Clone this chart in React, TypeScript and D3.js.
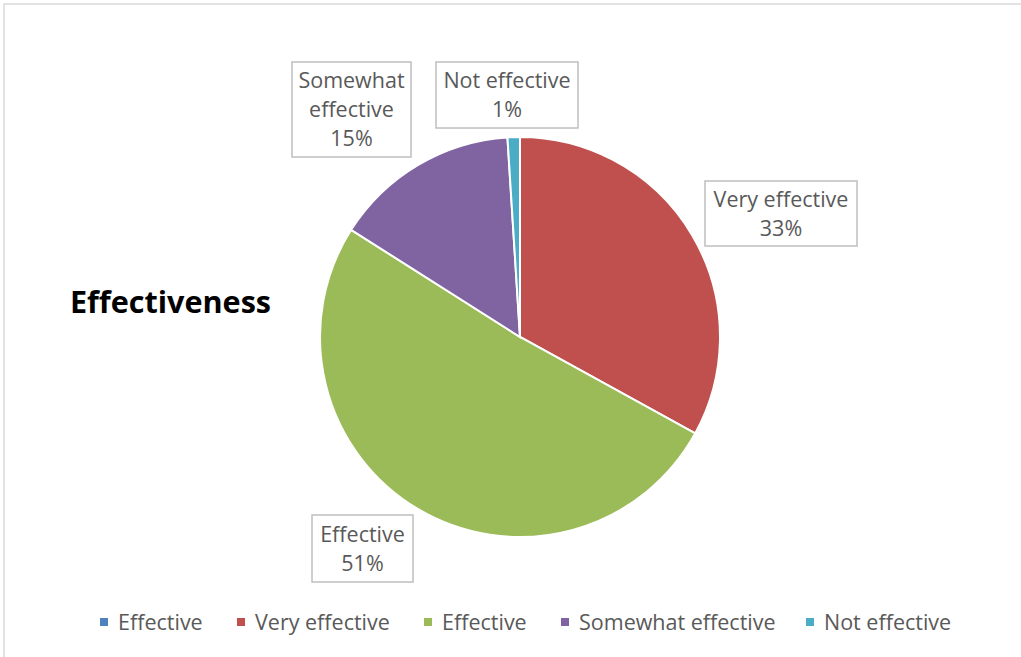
import React from "react";
import * as d3 from "d3";

const categories = ["Very effective", "Effective", "Somewhat effective", "Not effective"];
const values = [33, 51, 15, 1];
const colors = ["#C0504D", "#9BBB59", "#8064A2", "#4BACC6"];
const legendNames = ["Effective", "Very effective", "Effective", "Somewhat effective", "Not effective"];
const legendColors = ["#4F81BD", "#C0504D", "#9BBB59", "#8064A2", "#4BACC6"];
const labelLines = [
  ["Very effective", "33%"],
  ["Effective", "51%"],
  ["Somewhat", "effective", "15%"],
  ["Not effective", "1%"],
];
// label box layout (center x, center y, width, height)
const labelBoxes = [
  [781, 213.5, 152, 65],
  [362.5, 548.5, 101, 67],
  [351.5, 109.5, 119, 95],
  [507, 95, 142, 66],
];
const legendX = [104, 241, 428, 565, 810];

const W = 1021;
const H = 657;
const FONT = "'Open Sans', Lato, sans-serif";

export default function App() {
  const cx = 520, cy = 337, r = 200;
  const pie = d3.pie<number>().sort(null).value((d) => d)(values);
  const arc = d3.arc<d3.PieArcDatum<number>>().innerRadius(0).outerRadius(r);
  const lh = 29;
  return (
    <svg width={W} height={H} style={{ position: "absolute", left: 0, top: 0 }} fontFamily={FONT}>
      <rect x={0} y={0} width={W} height={H} fill="#fff" />
      <rect x={4} y={4} width={W + 20} height={H + 20} fill="#fff" stroke="#D9D9D9" strokeWidth={1.5} />
      <text x={70} y={313} fontSize={30} fontWeight="bold" fill="#000" textLength={201} lengthAdjust="spacingAndGlyphs">Effectiveness</text>
      <g transform={`translate(${cx},${cy})`}>
        {pie.map((p, i) => (
          <path key={i} d={arc(p) || ""} fill={colors[i]} stroke="#fff" strokeWidth={2} />
        ))}
      </g>
      {labelBoxes.map((b, i) => {
        const [bx, by, bw, bh] = b;
        const lines = labelLines[i];
        const top = by - ((lines.length - 1) * lh) / 2;
        return (
          <g key={i}>
            <rect x={bx - bw / 2} y={by - bh / 2} width={bw} height={bh} fill="#fff" stroke="#BFBFBF" strokeWidth={1.5} />
            {lines.map((t, j) => (
              <text key={j} x={bx} y={top + j * lh} dy="0.35em" textAnchor="middle" fontSize={21.5} fill="#595959">{t}</text>
            ))}
          </g>
        );
      })}
      {legendNames.map((n, i) => (
        <g key={i}>
          <rect x={legendX[i] - 4} y={618} width={8} height={8} fill={legendColors[i]} />
          <text x={legendX[i] + 14} y={622} dy="0.35em" fontSize={21.5} fill="#595959">{n}</text>
        </g>
      ))}
    </svg>
  );
}
